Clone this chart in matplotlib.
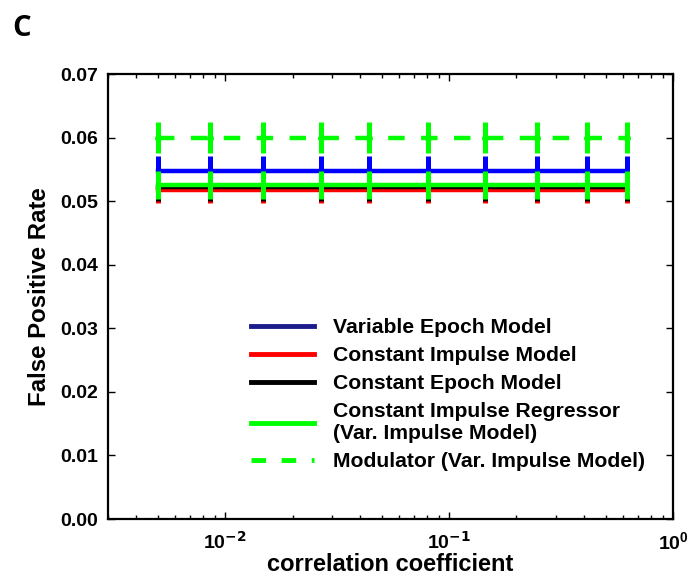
import matplotlib
matplotlib.use('Agg')
import matplotlib.pyplot as plt
from matplotlib.lines import Line2D

# correlation coefficients (x)
corr = [0.0050, 0.0086, 0.0148, 0.0267, 0.0441, 0.0807, 0.1445, 0.246, 0.415, 0.625]

labels = ['Variable Epoch Model',
          'Constant Impulse Model',
          'Constant Epoch Model',
          'Constant Impulse Regressor\n(Var. Impulse Model)',
          'Modulator (Var. Impulse Model)']
fpr = [0.0548, 0.0518, 0.0523, 0.0525, 0.0600]
err = [0.0023, 0.0021, 0.0022, 0.0022, 0.0024]
colors = ['#0000ff', '#ff0000', '#000000', '#00ff00', '#00ff00']
legend_colors = ['#1c1c8c', '#ff0000', '#000000', '#00ff00', '#00ff00']
styles = ['-', '-', '-', '-', '--']

plt.rcParams['font.family'] = ['Liberation Sans', 'DejaVu Sans']
plt.rcParams['font.weight'] = 'bold'
plt.rcParams['mathtext.fontset'] = 'custom'
plt.rcParams['mathtext.rm'] = 'Liberation Sans:bold'
plt.rcParams['mathtext.bf'] = 'Liberation Sans:bold'
plt.rcParams['mathtext.it'] = 'Liberation Sans:bold'

fig = plt.figure(figsize=(6.9, 5.75), dpi=100)
ax = fig.add_axes([108 / 690, 1 - 519 / 575, 565 / 690, 445 / 575])

for i in range(len(labels)):
    y = [fpr[i]] * len(corr)
    e = [err[i]] * len(corr)
    ax.errorbar(corr, y, yerr=e, color=colors[i], linestyle=styles[i],
                linewidth=3.2, elinewidth=3.6, capsize=0,
                dashes=(3.7, 3.7) if styles[i] == '--' else (None, None),
                marker='o' if styles[i] == '--' else None, markersize=4,
                zorder=2 + i)

ax.set_xscale('log')
ax.set_xlim(0.003, 1)
ax.set_ylim(0, 0.07)
ax.set_yticks([0.0, 0.01, 0.02, 0.03, 0.04, 0.05, 0.06, 0.07])
ax.set_yticklabels(['%.2f' % v for v in ax.get_yticks()])
ax.set_xticks([0.01, 0.1, 1])
ax.set_xticklabels(['$10^{\\mathsf{-2}}$', '$10^{\\mathsf{-1}}$', '$10^{0}$'])
ax.tick_params(which='both', direction='in', top=True, right=True,
               labelsize=14, width=1)
ax.tick_params(which='major', length=5)
ax.tick_params(which='minor', length=3)
ax.tick_params(axis='x', pad=9, labelsize=14)
ax.tick_params(axis='y', pad=7)
for sp in ax.spines.values():
    sp.set_linewidth(1.6)

ax.set_xlabel('correlation coefficient', fontsize=17, fontweight='bold', labelpad=0)
ax.set_ylabel('False Positive Rate', fontsize=17.3, fontweight='bold', labelpad=7)

handles = [Line2D([0], [0], color=legend_colors[i], linewidth=3.5, linestyle=styles[i],
                  dashes=(3, 3.2) if styles[i] == '--' else (None, None))
           for i in range(len(labels))]
ax.legend(handles, labels, loc='upper left', bbox_to_anchor=(0.234, 0.475),
          frameon=False, handlelength=3.0, handletextpad=0.9,
          labelspacing=0.43, borderpad=0, prop={'weight': 'bold', 'size': 15.2})

fig.text(12 / 690, 1 - 28 / 575, 'C', fontsize=21, fontweight='bold',
         family=['Open Sans', 'DejaVu Sans'], ha='left', va='center')

fig.savefig('out.png', dpi=100)
